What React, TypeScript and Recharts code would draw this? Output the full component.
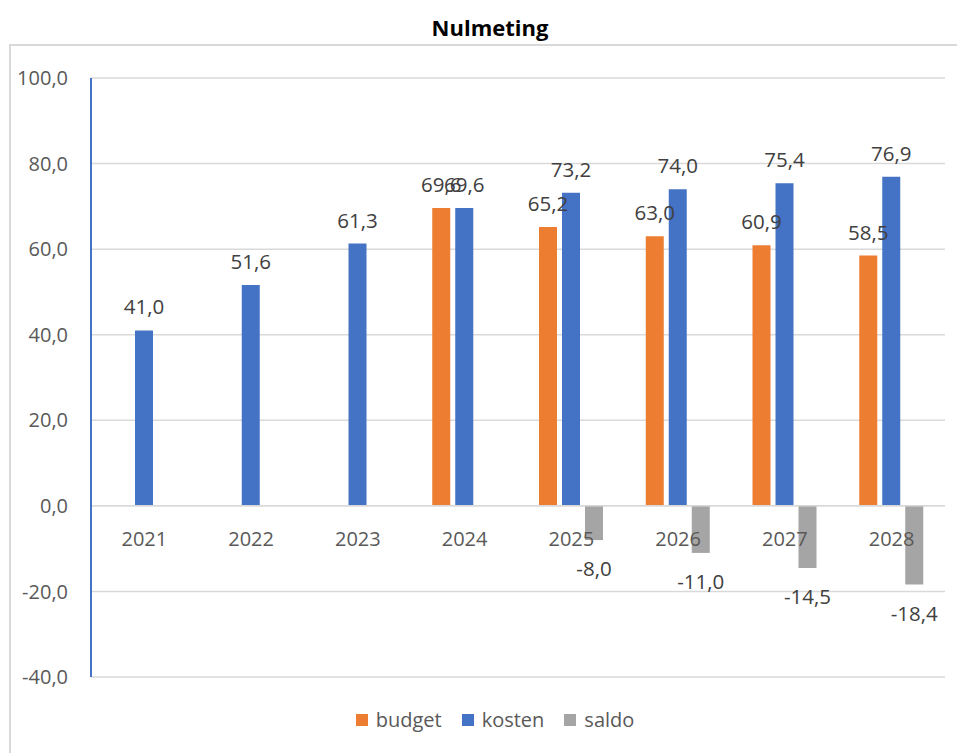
import { Bar, BarChart, CartesianGrid, LabelList, ReferenceLine, XAxis, YAxis } from 'recharts'

const years = ['2021', '2022', '2023', '2024', '2025', '2026', '2027', '2028']
const budget = [null, null, null, 69.6, 65.2, 63.0, 60.9, 58.5]
const kosten = [41.0, 51.6, 61.3, 69.6, 73.2, 74.0, 75.4, 76.9]
const saldo = [null, null, null, null, -8.0, -11.0, -14.5, -18.4]
const yTicks = [-40, -20, 0, 20, 40, 60, 80, 100]

const data = years.map((year, i) => ({
  year,
  budget: budget[i],
  kosten: kosten[i],
  saldo: saldo[i],
}))

const W = 957
const H = 753
const TOP = 78
const BOTTOM = 76
const Y_MIN = -40
const Y_MAX = 100
const PLOT_H = H - TOP - BOTTOM
const zeroY = TOP + (Y_MAX / (Y_MAX - Y_MIN)) * PLOT_H

const FONT = '"Open Sans", sans-serif'
const fmt = (v: number) => v.toFixed(1).replace('.', ',')

const series = [
  { key: 'budget', name: 'budget', color: '#ed7d31' },
  { key: 'kosten', name: 'kosten', color: '#4472c4' },
  { key: 'saldo', name: 'saldo', color: '#a5a5a5' },
]

const YearTick = ({ x, payload }: any) => (
  <text x={x} y={zeroY + 33} textAnchor="middle" dominantBaseline="central" fill="#595959" fontSize={20} fontFamily={FONT}>
    {payload.value}
  </text>
)

const ValueLabel = ({ x, y, width, height, value }: any) => {
  if (value == null) return null
  const top = Math.min(y, y + height)
  const bottom = Math.max(y, y + height)
  const ly = value >= 0 ? top - 24 : bottom + 28
  return (
    <text x={x + width / 2} y={ly} textAnchor="middle" dominantBaseline="central" fill="#404040" fontSize={20.5} fontFamily={FONT}>
      {fmt(value)}
    </text>
  )
}

export default function App() {
  return (
    <div style={{ position: 'absolute', left: 0, top: 0, width: W, height: H, overflow: 'hidden', background: '#fff' }}>
      <div
        style={{
          position: 'absolute',
          left: 9,
          top: 44,
          width: 1000,
          height: 800,
          border: '2px solid #d9d9d9',
          boxSizing: 'border-box',
        }}
      />
      <div
        style={{
          position: 'absolute',
          left: 0,
          top: 12,
          width: 980,
          textAlign: 'center',
          fontFamily: FONT,
          fontWeight: 700,
          fontSize: 22,
          color: '#000',
        }}
      >
        Nulmeting
      </div>
      <div style={{ position: 'absolute', left: 0, top: 0 }}>
        <BarChart width={W} height={H} data={data} margin={{ top: TOP, right: 12, bottom: 0, left: 0 }} barSize={18} barGap={5}>
          <CartesianGrid vertical={false} stroke="#d9d9d9" strokeWidth={1.5} />
          <XAxis dataKey="year" height={BOTTOM} axisLine={false} tickLine={false} tick={<YearTick />} interval={0} />
          <YAxis
            domain={[Y_MIN, Y_MAX]}
            ticks={yTicks}
            width={91}
            tickFormatter={fmt}
            axisLine={{ stroke: '#4472c4', strokeWidth: 2 }}
            tickLine={false}
            tickSize={0}
            tickMargin={23}
            tick={{ fill: '#595959', fontSize: 20, fontFamily: FONT }}
          />
          <ReferenceLine y={0} stroke="#d9d9d9" strokeWidth={1.5} />
          {series.map((s) => (
            <Bar key={s.key} dataKey={s.key} name={s.name} fill={s.color} isAnimationActive={false}>
              <LabelList dataKey={s.key} content={<ValueLabel />} />
            </Bar>
          ))}
        </BarChart>
      </div>
      <div
        style={{
          position: 'absolute',
          left: 0,
          top: 706,
          width: 990,
          display: 'flex',
          justifyContent: 'center',
          gap: 20,
          fontFamily: FONT,
          fontSize: 20,
          color: '#595959',
        }}
      >
        {series.map((s) => (
          <div key={s.key} style={{ display: 'flex', alignItems: 'center' }}>
            <span style={{ display: 'inline-block', width: 12, height: 12, background: s.color, marginRight: 8 }} />
            {s.name}
          </div>
        ))}
      </div>
    </div>
  )
}
